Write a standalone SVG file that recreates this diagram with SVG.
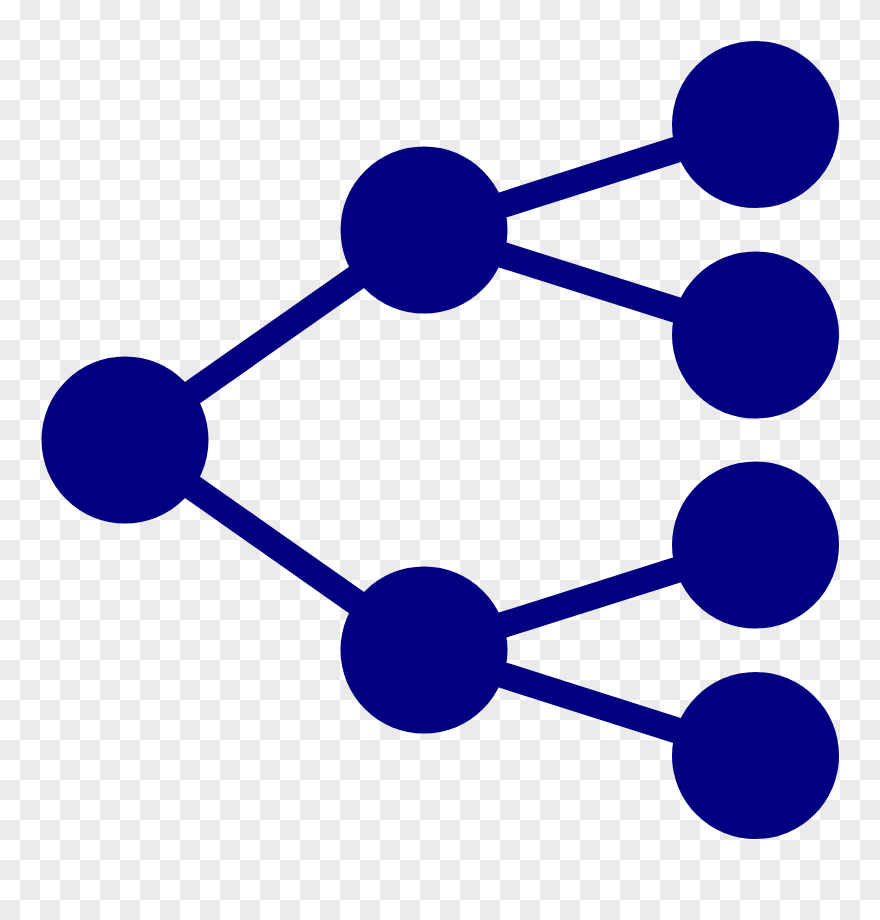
<svg xmlns="http://www.w3.org/2000/svg" width="880" height="920" viewBox="0 0 880 920">
<style>
.node{fill:#000080}
.edge{stroke:#000080;stroke-width:26;fill:none}
</style>
<defs>
<pattern id="checker" width="40" height="40" patternUnits="userSpaceOnUse">
<rect width="40" height="40" fill="#ffffff"/>
<rect x="20" y="0" width="20" height="20" fill="#ebebeb"/>
<rect x="0" y="20" width="20" height="20" fill="#ebebeb"/>
</pattern>
</defs>
<rect width="880" height="920" fill="url(#checker)"/>
<g id="connectors">
<line class="edge" x1="125" y1="440" x2="424" y2="230"/>
<line class="edge" x1="125" y1="440" x2="424" y2="650"/>
<line class="edge" x1="424" y1="230" x2="755.5" y2="124.5"/>
<line class="edge" x1="424" y1="230" x2="755.5" y2="335"/>
<line class="edge" x1="424" y1="650" x2="755.5" y2="545"/>
<line class="edge" x1="424" y1="650" x2="755.5" y2="755.5"/>
</g>
<g id="root"><circle class="node" cx="125" cy="440" r="83.5"/></g>
<g id="mid-top"><circle class="node" cx="424" cy="230" r="83.5"/></g>
<g id="mid-bottom"><circle class="node" cx="424" cy="650" r="83.5"/></g>
<g id="leaf-1"><circle class="node" cx="755.5" cy="124.5" r="83.5"/></g>
<g id="leaf-2"><circle class="node" cx="755.5" cy="335" r="83.5"/></g>
<g id="leaf-3"><circle class="node" cx="755.5" cy="545" r="83.5"/></g>
<g id="leaf-4"><circle class="node" cx="755.5" cy="755.5" r="83.5"/></g>
</svg>
